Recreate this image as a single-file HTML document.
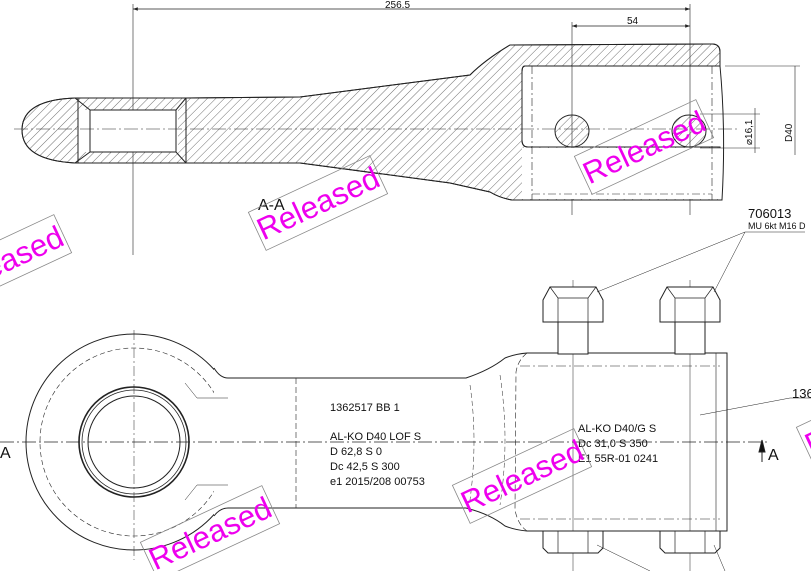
<!DOCTYPE html>
<html><head><meta charset="utf-8">
<style>
html,body{margin:0;padding:0;background:#fff;}
svg{display:block;}
.t{font-family:"Liberation Sans Narrow","Liberation Sans",sans-serif;fill:#111;}
.rel{font-family:"Liberation Sans",sans-serif;font-size:31px;fill:#ee00ee;}
</style></head><body>
<svg width="811" height="571" viewBox="0 0 811 571" xmlns="http://www.w3.org/2000/svg">
<defs>
<pattern id="h" patternUnits="userSpaceOnUse" width="6" height="6" patternTransform="rotate(45)">
<line x1="0" y1="0" x2="0" y2="6" stroke="#333" stroke-width="0.7"/>
</pattern>
<marker id="ar" markerWidth="8" markerHeight="6" refX="8" refY="3" orient="auto"><path d="M0,0 L8,3 L0,6 z" fill="#222"/></marker>
</defs>
<g stroke="#222" fill="none" stroke-width="1">
<line x1="133" y1="4" x2="133" y2="255" stroke-width="0.6"/>
<line x1="690" y1="4" x2="690" y2="215" stroke-width="0.6"/>
<line x1="572" y1="22" x2="572" y2="215" stroke-width="0.6"/>
<line x1="133" y1="9" x2="690" y2="9" stroke-width="0.6" marker-end="url(#ar)"/>
<line x1="690" y1="9" x2="133" y2="9" stroke-width="0.6" marker-end="url(#ar)"/>
<line x1="572" y1="26" x2="690" y2="26" stroke-width="0.6" marker-end="url(#ar)"/>
<line x1="690" y1="26" x2="572" y2="26" stroke-width="0.6" marker-end="url(#ar)"/>
<path d="M75,98 L186,98 L300,97 L470,75 Q485,60 510,45 L712,44 Q720,44 720,52 L720,66 L525,66 Q522,66 522,72 L522,140 Q522,147 528,147 L720,147 L722,200 L512,200 Q500,198 490,192 L450,183 L300,163 L75,163 Q22,160 22,130 Q22,100 75,98 Z" fill="url(#h)"/>
<rect x="78" y="110" width="100" height="42" fill="#fff" stroke="none"/>
<rect x="522" y="148" width="202" height="51" fill="#fff" stroke="none"/>
<path d="M75,98 L186,98 L300,97 L470,75 Q485,60 510,45 L712,44 Q720,44 720,52 L720,66 M720,66 L525,66 Q522,66 522,72 L522,140 Q522,147 528,147 L720,147 M720,66 Q726,130 722,200 L512,200 Q500,198 490,192 L450,183 L300,163 L75,163 Q22,160 22,130 Q22,100 75,98" />
<path d="M75,98 L90,110 L176,110 L186,98 M75,163 L90,152 L176,152 L186,163 M90,110 L90,152 M176,110 L176,152 M78,98 L78,163 M186,98 L186,163"/>
<line x1="532" y1="66" x2="532" y2="200" stroke-dasharray="8,3,2,3" stroke-width="0.6"/>
<line x1="712" y1="66" x2="712" y2="200" stroke-dasharray="8,3,2,3" stroke-width="0.6"/>
<line x1="532" y1="194" x2="712" y2="194" stroke-dasharray="8,3,2,3" stroke-width="0.6"/>
<ellipse cx="572" cy="131" rx="17" ry="16" fill="url(#h)"/>
<ellipse cx="689" cy="131" rx="17" ry="16" fill="url(#h)"/>
<line x1="14" y1="129" x2="740" y2="129" stroke-dasharray="14,3,2,3" stroke-width="0.6"/>
<line x1="725" y1="66" x2="800" y2="66" stroke-width="0.5"/>
<line x1="795" y1="66" x2="795" y2="155" stroke-width="0.6"/>
<line x1="700" y1="114" x2="760" y2="114" stroke-width="0.5"/>
<line x1="700" y1="148" x2="760" y2="148" stroke-width="0.5"/>
<line x1="755" y1="108" x2="755" y2="153" stroke-width="0.6"/>
<circle cx="134" cy="442" r="108"/>
<circle cx="134" cy="442" r="94" stroke-dasharray="5,3" stroke-width="0.6"/>
<circle cx="134" cy="442" r="55" stroke-width="1.6"/>
<circle cx="134" cy="442" r="52" stroke-width="0.8"/>
<circle cx="134" cy="442" r="46"/>
<path d="M214,368 Q220,378 228,378 L466,378 Q490,370 505,358 Q515,354 527,353 L727,353 L727,531 L527,531 Q515,530 505,526 Q490,514 466,508 L228,508 Q220,508 214,516" fill="#fff"/>
<path d="M527,353 Q518,360 516,372 L515,510 Q518,525 527,531" stroke-width="0.6" stroke-dasharray="6,3"/>
<line x1="296" y1="378" x2="296" y2="508" stroke-dasharray="6,3" stroke-width="0.6"/>
<path d="M197,398 L228,398 M197,485 L228,485" stroke-width="0.6"/>
<path d="M185,383 L197,398 M185,500 L197,485" stroke-width="0.5"/>
<line x1="520" y1="366" x2="720" y2="366" stroke-dasharray="10,3,2,3" stroke-width="0.6"/>
<line x1="520" y1="519" x2="720" y2="519" stroke-dasharray="10,3,2,3" stroke-width="0.6"/>
<path d="M470,385 Q478,440 470,500 M500,375 Q510,440 500,505" stroke-width="0.5" stroke-dasharray="5,3"/>
<line x1="716" y1="353" x2="716" y2="531" stroke-width="0.6"/>
<line x1="134" y1="330" x2="134" y2="560" stroke-dasharray="10,3,2,3" stroke-width="0.5"/>
<line x1="573" y1="280" x2="573" y2="571" stroke-width="0.5"/>
<line x1="690" y1="280" x2="690" y2="571" stroke-width="0.5"/>
<line x1="0" y1="442" x2="770" y2="442" stroke-dasharray="14,3,2,3" stroke-width="0.8"/>
<g fill="#fff">
<rect x="558" y="322" width="30" height="32"/>
<rect x="675" y="322" width="30" height="32"/>
<path d="M543,300 L550,287 L596,287 L603,300 L603,322 L543,322 Z"/>
<path d="M660,300 L667,287 L713,287 L720,300 L720,322 L660,322 Z"/>
<path d="M543,531 L603,531 L603,548 L598,553 L548,553 L543,548 Z"/>
<path d="M660,531 L720,531 L720,548 L715,553 L665,553 L660,548 Z"/>
</g>
<path d="M558,298 L558,322 M588,298 L588,322 M675,298 L675,322 M705,298 L705,322 M550,287 L558,298 L588,298 L596,287 M667,287 L675,298 L705,298 L713,287 M558,531 L558,553 M588,531 L588,553 M675,531 L675,553 M705,531 L705,553" stroke-width="0.7"/>
<path d="M597,292 L745,232 L805,232 M714,292 L745,232" stroke-width="0.5"/>
<path d="M700,415 L790,398 L811,398" stroke-width="0.5"/>
<path d="M597,545 L650,571 M714,545 L725,571" stroke-width="0.5"/>
<line x1="762" y1="442" x2="762" y2="462" stroke-width="1"/>
<path d="M759,452 L762,440 L765,452 Z" fill="#111"/>
</g>
<text class="t" x="385" y="8" font-size="10">256.5</text>
<text class="t" x="627" y="24" font-size="10">54</text>
<text class="t" font-size="10" transform="translate(752,145) rotate(-90)">⌀16,1</text>
<text class="t" font-size="10" transform="translate(792,142) rotate(-90)">D40</text>
<text class="t" x="258" y="210" font-size="16" style="font-family:'Liberation Sans',sans-serif">A-A</text>
<text class="t" x="748" y="218" font-size="13">706013</text>
<text class="t" x="748" y="229" font-size="9">MU 6kt M16 D</text>
<text class="t" x="792" y="398" font-size="13">136</text>
<text class="t" x="0" y="458" font-size="16" style="font-family:'Liberation Sans',sans-serif">A</text>
<text class="t" x="768" y="460" font-size="16" style="font-family:'Liberation Sans',sans-serif">A</text>
<g class="t" font-size="11">
<text x="330" y="411">1362517  BB  1</text>
<text x="330" y="440">AL-KO  D40 LOF   S</text>
<text x="330" y="455">D   62,8   S  0</text>
<text x="330" y="470">Dc  42,5   S 300</text>
<text x="330" y="485">e1  2015/208 00753</text>
<text x="578" y="432">AL-KO  D40/G   S</text>
<text x="578" y="447">Dc  31,0   S 350</text>
<text x="578" y="462">E1  55R-01  0241</text>
</g>
<g transform="translate(644,147) rotate(-25)"><rect x="-67" y="-21" width="134" height="42" fill="none" stroke="#888" stroke-width="0.8"/><text class="rel" x="0" y="11" text-anchor="middle">Released</text></g>
<g transform="translate(318,203) rotate(-25)"><rect x="-67" y="-21" width="134" height="42" fill="none" stroke="#888" stroke-width="0.8"/><text class="rel" x="0" y="11" text-anchor="middle">Released</text></g>
<g transform="translate(2,262) rotate(-25)"><rect x="-67" y="-21" width="134" height="42" fill="none" stroke="#888" stroke-width="0.8"/><text class="rel" x="0" y="11" text-anchor="middle">Released</text></g>
<g transform="translate(522,476) rotate(-25)"><rect x="-67" y="-21" width="134" height="42" fill="none" stroke="#888" stroke-width="0.8"/><text class="rel" x="0" y="11" text-anchor="middle">Released</text></g>
<g transform="translate(210,533) rotate(-25)"><rect x="-67" y="-21" width="134" height="42" fill="none" stroke="#888" stroke-width="0.8"/><text class="rel" x="0" y="11" text-anchor="middle">Released</text></g>
<g transform="translate(866,418) rotate(-25)"><rect x="-67" y="-21" width="134" height="42" fill="none" stroke="#888" stroke-width="0.8"/><text class="rel" x="0" y="11" text-anchor="middle">Released</text></g>
</svg>
</body></html>
